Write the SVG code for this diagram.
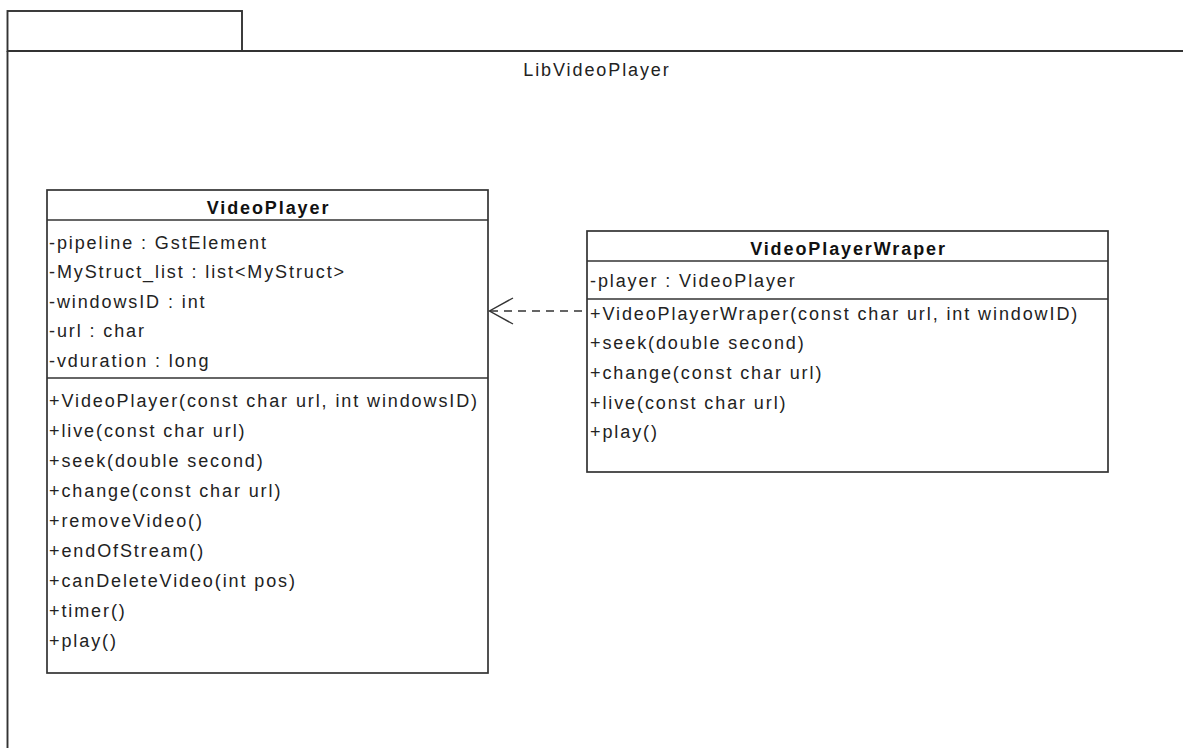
<svg xmlns="http://www.w3.org/2000/svg" width="1183" height="748" viewBox="0 0 1183 748">
  <style>
    .frame { fill: #ffffff; stroke: #333333; stroke-width: 1.9; }
    .box { fill: #ffffff; stroke: #333333; stroke-width: 1.7; }
    .sep { stroke: #333333; stroke-width: 1.7; }
    .t { font-family: "Liberation Sans", Arial, sans-serif; font-size: 18px; letter-spacing: 1.9px; fill: #222222; }
    .title { font-family: "Liberation Sans", Arial, sans-serif; font-size: 18px; letter-spacing: 1.9px; font-weight: bold; fill: #111111; text-anchor: middle; }
    .pkg { font-family: "Liberation Sans", Arial, sans-serif; font-size: 18px; letter-spacing: 1.9px; fill: #222222; text-anchor: middle; }
    .dep { fill: none; stroke: #333333; stroke-width: 1.4; }
  </style>
  <rect width="1183" height="748" fill="#ffffff"/>

  <!-- package LibVideoPlayer -->
  <g id="pkg-LibVideoPlayer">
    <rect class="frame" x="7.5" y="11" width="234.5" height="40"/>
    <path class="frame" d="M7.5 51 H1190 M7.5 51 V760" fill="none"/>
    <text class="pkg" x="597" y="76">LibVideoPlayer</text>
  </g>

  <!-- class VideoPlayer -->
  <g id="VideoPlayer">
    <rect class="box" x="47" y="190" width="441" height="483"/>
    <line class="sep" x1="47" y1="220" x2="488" y2="220"/>
    <line class="sep" x1="47" y1="378" x2="488" y2="378"/>
    <text class="title" x="268.5" y="214">VideoPlayer</text>
    <text class="t" x="49" y="248.5">-pipeline : GstElement</text>
    <text class="t" x="49" y="278">-MyStruct_list : list&lt;MyStruct&gt;</text>
    <text class="t" x="49" y="307.5">-windowsID : int</text>
    <text class="t" x="49" y="337">-url : char</text>
    <text class="t" x="49" y="366.5">-vduration : long</text>
    <text class="t" x="49" y="406.5">+VideoPlayer(const char url, int windowsID)</text>
    <text class="t" x="49" y="436.5">+live(const char url)</text>
    <text class="t" x="49" y="466.5">+seek(double second)</text>
    <text class="t" x="49" y="496.5">+change(const char url)</text>
    <text class="t" x="49" y="526.5">+removeVideo()</text>
    <text class="t" x="49" y="556.5">+endOfStream()</text>
    <text class="t" x="49" y="586.5">+canDeleteVideo(int pos)</text>
    <text class="t" x="49" y="616.5">+timer()</text>
    <text class="t" x="49" y="646.5">+play()</text>
  </g>

  <!-- class VideoPlayerWraper -->
  <g id="VideoPlayerWraper">
    <rect class="box" x="587" y="231" width="521" height="241"/>
    <line class="sep" x1="587" y1="261" x2="1108" y2="261"/>
    <line class="sep" x1="587" y1="299" x2="1108" y2="299"/>
    <text class="title" x="848.5" y="255">VideoPlayerWraper</text>
    <text class="t" x="590" y="286.5">-player : VideoPlayer</text>
    <text class="t" x="590" y="319.5">+VideoPlayerWraper(const char url, int windowID)</text>
    <text class="t" x="590" y="349">+seek(double second)</text>
    <text class="t" x="590" y="379">+change(const char url)</text>
    <text class="t" x="590" y="409">+live(const char url)</text>
    <text class="t" x="590" y="438">+play()</text>
  </g>

  <!-- dependency: VideoPlayerWraper uses VideoPlayer -->
  <g id="connectors">
    <line class="dep" x1="490" y1="311" x2="587" y2="311" stroke-dasharray="8 6"/>
    <path class="dep" d="M513 298 L489.5 311 L513 324"/>
  </g>
</svg>
